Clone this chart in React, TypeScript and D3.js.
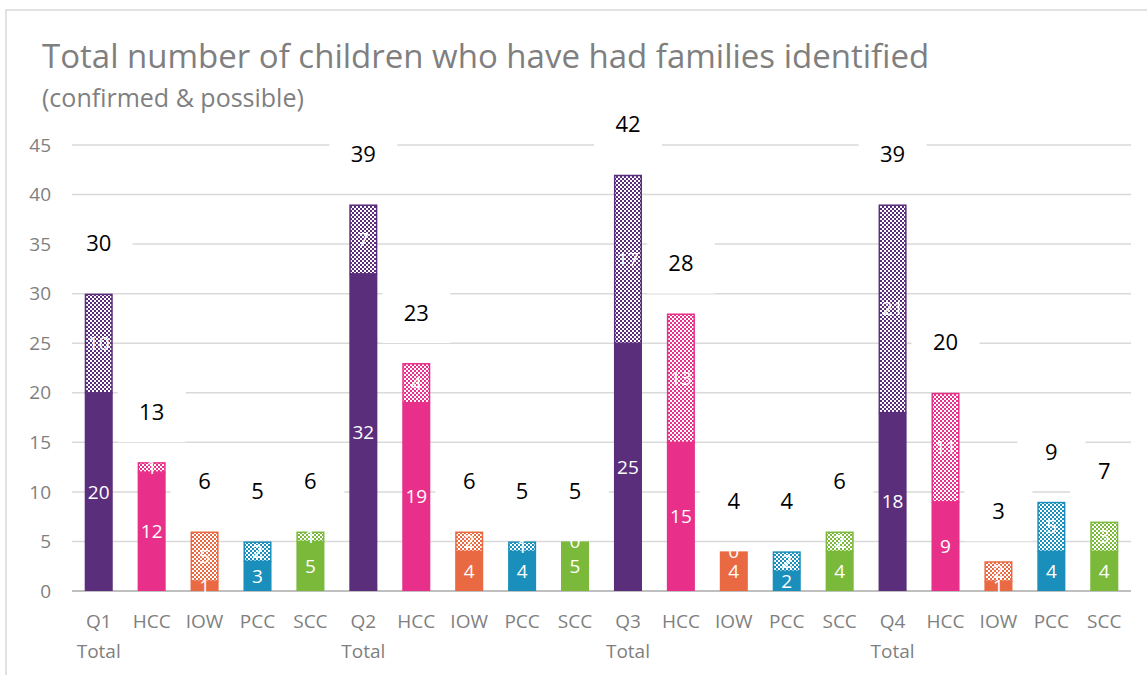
import React from 'react';
import * as d3 from 'd3';

const categories = [
  'Q1 Total', 'HCC', 'IOW', 'PCC', 'SCC',
  'Q2 Total', 'HCC', 'IOW', 'PCC', 'SCC',
  'Q3 Total', 'HCC', 'IOW', 'PCC', 'SCC',
  'Q4 Total', 'HCC', 'IOW', 'PCC', 'SCC',
];
const groups = ['Total', 'HCC', 'IOW', 'PCC', 'SCC'];
const confirmed = [20, 12, 1, 3, 5, 32, 19, 4, 4, 5, 25, 15, 4, 2, 4, 18, 9, 1, 4, 4];
const possible = [10, 1, 5, 2, 1, 7, 4, 2, 1, 0, 17, 13, 0, 2, 2, 21, 11, 2, 5, 3];
const yTicks = [0, 5, 10, 15, 20, 25, 30, 35, 40, 45];

const colors: Record<string, string> = {
  Total: '#5b2e7c',
  HCC: '#e8308a',
  IOW: '#e96a42',
  PCC: '#1b8fbb',
  SCC: '#7ab93a',
};

const W = 1147;
const H = 675;
const margin = { top: 145, right: 16, bottom: 84, left: 72 };

export default function App() {
  const x = d3
    .scaleBand()
    .domain(categories.map((d, i) => String(i)))
    .range([margin.left, W - margin.right])
    .paddingInner(0.47)
    .paddingOuter(0.24);

  const y = d3
    .scaleLinear()
    .domain([0, 45])
    .range([H - margin.bottom, margin.top]);

  const font = "'Open Sans', 'Liberation Sans', sans-serif";
  const bw = x.bandwidth();

  return (
    <svg width={W} height={H} style={{ position: 'absolute', left: 0, top: 0 }}>
      <defs>
        {groups.map((g) => (
          <pattern key={g} id={'chk-' + g} width={4} height={4} patternUnits="userSpaceOnUse">
            <rect width={4} height={4} fill="#fff" />
            <rect width={2} height={2} fill={colors[g]} />
            <rect x={2} y={2} width={2} height={2} fill={colors[g]} />
          </pattern>
        ))}
      </defs>
      <rect x={0} y={0} width={W} height={H} fill="#fff" />
      <rect x={6} y={10} width={W + 10} height={H + 10} fill="none" stroke="#d9d9d9" strokeWidth={1.5} />

      <text x={42} y={68} fontFamily={font} fontSize={33} fill="#7f7f7f">
        Total number of children who have had families identified
      </text>
      <text x={42} y={107} fontFamily={font} fontSize={25} fill="#7f7f7f">
        (confirmed &amp; possible)
      </text>

      {yTicks.map((t) => (
        <g key={t}>
          <line
            x1={margin.left}
            x2={W - margin.right}
            y1={y(t)}
            y2={y(t)}
            stroke={t === 0 ? '#bfbfbf' : '#d9d9d9'}
            strokeWidth={t === 0 ? 2 : 1.5}
          />
          <text x={51} y={y(t)} dy="0.35em" textAnchor="end" fontFamily={font} fontSize={19} fill="#7f7f7f">
            {t}
          </text>
        </g>
      ))}

      {/* white label boxes breaking the gridlines */}
      {categories.map((c, i) => {
        const total = confirmed[i] + possible[i];
        const cx = (x(String(i)) as number) + bw / 2;
        const ly = y(total) - 50;
        return <rect key={'box' + i} x={cx - 34} y={ly - 24} width={68} height={54} fill="#fff" />;
      })}

      {categories.map((c, i) => {
        const g = groups[i % 5];
        const x0 = x(String(i)) as number;
        const total = confirmed[i] + possible[i];
        return (
          <g key={'bar' + i}>
            <rect x={x0} y={y(confirmed[i])} width={bw} height={y(0) - y(confirmed[i])} fill={colors[g]} />
            {possible[i] > 0 && (
              <rect
                x={x0 + 0.75}
                y={y(total) + 0.75}
                width={bw - 1.5}
                height={y(confirmed[i]) - y(total) - 0.75}
                fill={`url(#chk-${g})`}
                stroke={colors[g]}
                strokeWidth={1.5}
              />
            )}
          </g>
        );
      })}

      {categories.map((c, i) => {
        const cx = (x(String(i)) as number) + bw / 2;
        const total = confirmed[i] + possible[i];
        return (
          <g key={'lab' + i} fontFamily={font} textAnchor="middle">
            <text x={cx} y={(y(0) + y(confirmed[i])) / 2} dy="0.35em" fontSize={19} fill="#fff">
              {confirmed[i]}
            </text>
            <text x={cx} y={(y(confirmed[i]) + y(total)) / 2} dy="0.35em" fontSize={19} fill="#fff">
              {possible[i]}
            </text>
            <text x={cx} y={y(total) - 50} dy="0.35em" fontSize={22} fill="#000">
              {total}
            </text>
          </g>
        );
      })}

      {categories.map((c, i) => {
        const cx = (x(String(i)) as number) + bw / 2;
        const parts = c.split(' ');
        return (
          <text key={'xl' + i} x={cx} y={628} textAnchor="middle" fontFamily={font} fontSize={19} fill="#7f7f7f">
            {parts.map((p, j) => (
              <tspan key={j} x={cx} dy={j === 0 ? 0 : 30}>
                {p}
              </tspan>
            ))}
          </text>
        );
      })}
    </svg>
  );
}
